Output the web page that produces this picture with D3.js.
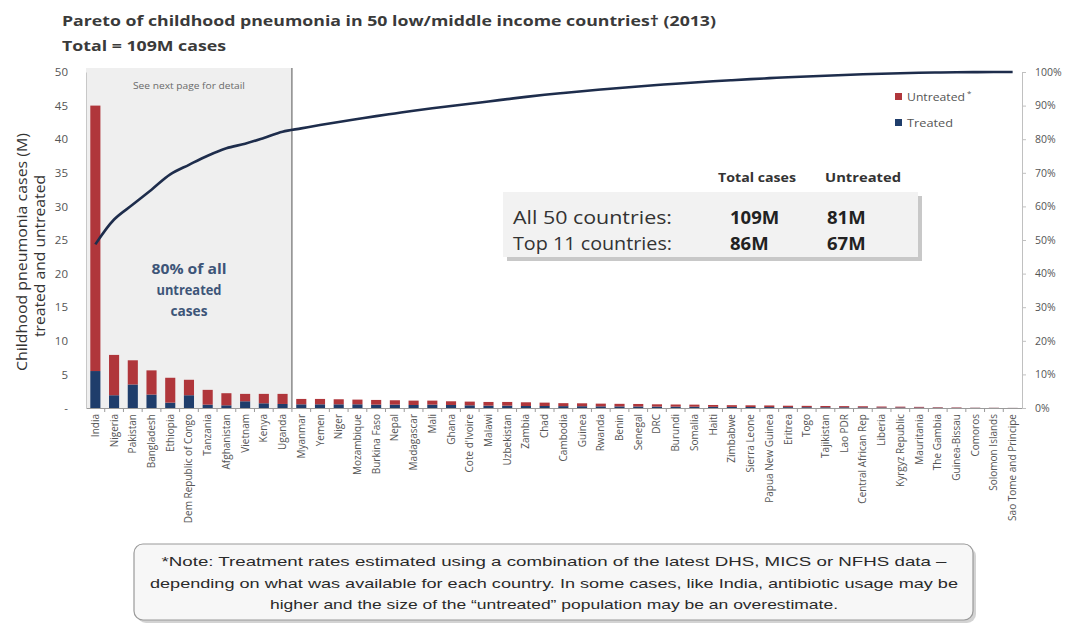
<!DOCTYPE html>
<html>
<head>
<meta charset="utf-8">
<script src="https://cdn.jsdelivr.net/npm/d3@7"></script>
<style>
  body { margin: 0; background: #fff; }
  svg { display: block; font-family: "Open Sans", Lato, sans-serif; }
</style>
</head>
<body>
<svg id="chart" width="1070" height="628"></svg>
<script>
// Childhood pneumonia cases (millions), 2013, by country
const countries = [
  "India", "Nigeria", "Pakistan", "Bangladesh", "Ethiopia", "Dem Republic of Congo",
  "Tanzania", "Afghanistan", "Vietnam", "Kenya", "Uganda", "Myanmar", "Yemen", "Niger",
  "Mozambique", "Burkina Faso", "Nepal", "Madagascar", "Mali", "Ghana", "Cote d'Ivoire",
  "Malawi", "Uzbekistan", "Zambia", "Chad", "Cambodia", "Guinea", "Rwanda", "Benin",
  "Senegal", "DRC", "Burundi", "Somalia", "Haiti", "Zimbabwe", "Sierra Leone",
  "Papua New Guinea", "Eritrea", "Togo", "Tajikistan", "Lao PDR", "Central African Rep",
  "Liberia", "Kyrgyz Republic", "Mauritania", "The Gambia", "Guinea-Bissau", "Comoros",
  "Solomon Islands", "Sao Tome and Principe"
];
const totalCases = [
  45.0, 7.9, 7.1, 5.6, 4.5, 4.2, 2.7, 2.2, 2.1, 2.1, 2.1, 1.35, 1.35, 1.3,
  1.25, 1.2, 1.15, 1.1, 1.1, 1.0, 0.95, 0.9, 0.9, 0.85, 0.8, 0.72, 0.7, 0.65, 0.62,
  0.6, 0.55, 0.52, 0.5, 0.45, 0.42, 0.4, 0.38, 0.34, 0.32, 0.3, 0.28, 0.26,
  0.22, 0.2, 0.17, 0.12, 0.09, 0.05, 0.04, 0.02
];
const treatedCases = [
  5.5, 1.9, 3.5, 2.0, 0.8, 1.9, 0.5, 0.4, 1.0, 0.7, 0.6, 0.55, 0.55, 0.55,
  0.55, 0.5, 0.5, 0.45, 0.5, 0.45, 0.4, 0.35, 0.35, 0.3, 0.3, 0.28, 0.27, 0.25, 0.24,
  0.23, 0.21, 0.2, 0.19, 0.17, 0.16, 0.15, 0.14, 0.13, 0.12, 0.11, 0.11, 0.1,
  0.08, 0.08, 0.07, 0.05, 0.03, 0.02, 0.015, 0.008
];
const leftTicks = [0, 5, 10, 15, 20, 25, 30, 35, 40, 45, 50];
const rightTicks = [0, 0.1, 0.2, 0.3, 0.4, 0.5, 0.6, 0.7, 0.8, 0.9, 1.0];
const topGroupSize = 11;
const tableHeaders = ["Total cases", "Untreated"];
const summaryRows = [
  { label: "All 50 countries:", total: "109M", untreated: "81M" },
  { label: "Top 11 countries:", total: "86M", untreated: "67M" }
];
const noteLines = [
  "*Note: Treatment rates estimated using a combination of the latest DHS, MICS or NFHS data \u2013",
  "depending  on what was available for each country. In some cases, like India, antibiotic usage may be",
  "higher and the size of the \u201cuntreated\u201d population may be an overestimate."
];

const untreatedCases = totalCases.map((t, i) => t - treatedCases[i]);
const untreatedSum = d3.sum(untreatedCases);
const cumulativeShare = d3.cumsum(untreatedCases).map(v => v / untreatedSum);

const data = countries.map((c, i) => ({
  country: c, treated: treatedCases[i], untreated: untreatedCases[i], cum: cumulativeShare[i]
}));

const svg = d3.select("#chart");
const plot = { left: 86, right: 1022, top: 72, bottom: 408 };

const x = d3.scaleBand().domain(countries).range([plot.left, plot.right])
  .paddingInner(0.46).paddingOuter(0.23);
const y = d3.scaleLinear().domain([0, 50]).range([plot.bottom, plot.top]);
const yPct = d3.scaleLinear().domain([0, 1]).range([plot.bottom, plot.top]);

// fixed-width text helper
function label(parent, txt, attrs, width, adjust) {
  const t = parent.append("text").text(txt);
  Object.entries(attrs).forEach(([k, v]) => t.attr(k, v));
  if (width) t.attr("textLength", width).attr("lengthAdjust", adjust || "spacingAndGlyphs");
  return t;
}

// Title
label(svg, "Pareto of childhood pneumonia in 50 low/middle income countries\u2020 (2013)",
  { x: 62, y: 26, "font-size": 15, "font-weight": 700, fill: "#3a3a3a" }, 654);
label(svg, "Total = 109M cases",
  { x: 62, y: 51, "font-size": 15, "font-weight": 700, fill: "#3a3a3a" }, 164);

// Shaded block for the top 11 countries
const splitX = x(countries[topGroupSize - 1]) + x.bandwidth() + x.step() * x.paddingInner() / 2;
svg.append("rect").attr("x", plot.left).attr("y", plot.top - 4)
  .attr("width", splitX - plot.left).attr("height", plot.bottom - plot.top + 4)
  .attr("fill", "#efefef");
svg.append("line").attr("x1", splitX).attr("x2", splitX)
  .attr("y1", plot.top - 4).attr("y2", plot.bottom)
  .attr("stroke", "#6f6f6f").attr("stroke-width", 1.2);
const blockMid = (plot.left + splitX) / 2;
label(svg, "See next page for detail",
  { x: blockMid, y: 89, "text-anchor": "middle", "font-size": 9, fill: "#6a6a6a" }, 112);
[["80% of all", 75], ["untreated", 65], ["cases", 37]].forEach(([t, w], i) => {
  label(svg, t, { x: blockMid, y: 274 + i * 21, "text-anchor": "middle", "font-size": 13.5,
    "font-weight": 700, fill: "#3d5578" }, w);
});

// Stacked bars
const stack = d3.stack().keys(["treated", "untreated"])(data);
const barColors = { treated: "#1f3d6b", untreated: "#b0363b" };
svg.append("g").selectAll("g").data(stack).join("g")
  .attr("fill", d => barColors[d.key])
  .selectAll("rect").data(d => d).join("rect")
  .attr("x", d => x(d.data.country))
  .attr("width", x.bandwidth())
  .attr("y", d => y(d[1]))
  .attr("height", d => Math.max(0, y(d[0]) - y(d[1])));

// Axes
const axisColor = "#9a9a9a";
const xAxis = svg.append("g").attr("transform", `translate(0,${plot.bottom})`)
  .call(d3.axisBottom(x).tickSize(0).tickFormat(""));
xAxis.select(".domain").attr("stroke", axisColor);
svg.append("g").selectAll("line").data(countries.slice(1)).join("line")
  .attr("x1", d => x(d) - x.step() * x.paddingInner() / 2)
  .attr("x2", d => x(d) - x.step() * x.paddingInner() / 2)
  .attr("y1", plot.bottom).attr("y2", plot.bottom + 4)
  .attr("stroke", axisColor);
svg.append("g").selectAll("text").data(countries).join("text")
  .attr("transform", d => `translate(${x(d) + x.bandwidth() / 2 + 3.5},${plot.bottom + 6}) rotate(-90)`)
  .attr("text-anchor", "end").attr("font-size", 10).attr("fill", "#555")
  .text(d => d);

const yAxisL = svg.append("g").attr("transform", `translate(${plot.left},0)`)
  .call(d3.axisLeft(y).tickValues(leftTicks).tickSize(0).tickPadding(18)
    .tickFormat(d => d === 0 ? "-" : d));
yAxisL.select(".domain").attr("stroke", "#c8c8c8");
yAxisL.selectAll("text").attr("font-size", 11.5).attr("fill", "#555")
  .attr("font-family", "'Open Sans', sans-serif");

const yAxisR = svg.append("g").attr("transform", `translate(${plot.right},0)`)
  .call(d3.axisRight(yPct).tickValues(rightTicks).tickSize(4).tickPadding(9)
    .tickFormat(d3.format(".0%")));
yAxisR.select(".domain").attr("stroke", "#c0c0c0");
yAxisR.selectAll(".tick line").attr("stroke", "#c0c0c0");
yAxisR.selectAll("text").attr("font-size", 10.5).attr("fill", "#555")
  .attr("font-family", "'Open Sans', sans-serif");

// Y axis title
label(svg, "Childhood pneumonia cases (M)",
  { transform: "translate(27,252) rotate(-90)", "text-anchor": "middle", "font-size": 14, fill: "#333" }, 238);
label(svg, "treated and untreated",
  { transform: "translate(45,256) rotate(-90)", "text-anchor": "middle", "font-size": 14, fill: "#333" }, 162);

// Cumulative untreated share
const line = d3.line()
  .x(d => x(d.country) + x.bandwidth() / 2)
  .y(d => yPct(d.cum))
  .curve(d3.curveCatmullRom.alpha(0.5));
svg.append("path").datum(data).attr("d", line)
  .attr("fill", "none").attr("stroke", "#1e2d4c").attr("stroke-width", 2.6);

// Legend
const legend = svg.append("g").attr("transform", "translate(895,97)");
[["untreated", "Untreated", 58], ["treated", "Treated", 46]].forEach(([k, txt, w], i) => {
  const g = legend.append("g").attr("transform", `translate(0,${i * 26})`);
  g.append("rect").attr("x", 0).attr("y", -4).attr("width", 7).attr("height", 7).attr("fill", barColors[k]);
  label(g, txt, { x: 12, y: 4, "font-size": 11, fill: "#555" }, w);
  if (k === "untreated") g.append("text").attr("x", 72).attr("y", -1).attr("font-size", 8).attr("fill", "#555").text("*");
});

// Summary table
const colTotal = 730, colUntreated = 827;
label(svg, tableHeaders[0], { x: 757, y: 182, "text-anchor": "middle", "font-size": 12,
  "font-weight": 700, fill: "#333" }, 78);
label(svg, tableHeaders[1], { x: 863, y: 182, "text-anchor": "middle", "font-size": 12,
  "font-weight": 700, fill: "#333" }, 76);
svg.append("rect").attr("x", 507).attr("y", 196).attr("width", 415).attr("height", 65)
  .attr("fill", "#9a9a9a").attr("opacity", 0.55);
svg.append("rect").attr("x", 503).attr("y", 192).attr("width", 415).attr("height", 65)
  .attr("fill", "#f2f2f2");
summaryRows.forEach((r, i) => {
  const yy = 224 + i * 26;
  label(svg, r.label, { x: 513, y: yy, "font-size": 18, fill: "#333" }, 159);
  label(svg, r.total, { x: colTotal, y: yy, "font-size": 18.5, "font-weight": 700, fill: "#222" });
  label(svg, r.untreated, { x: colUntreated, y: yy, "font-size": 18.5, "font-weight": 700, fill: "#222" });
});

// Footnote box
svg.append("rect").attr("x", 137).attr("y", 547).attr("width", 839).attr("height", 76)
  .attr("rx", 9).attr("fill", "#a8a8a8").attr("opacity", 0.5);
svg.append("rect").attr("x", 134).attr("y", 544).attr("width", 839).attr("height", 76)
  .attr("rx", 9).attr("fill", "#f7f7f7").attr("stroke", "#9a9a9a").attr("stroke-width", 1.2);
const noteWidths = [785, 808, 568];
noteLines.forEach((t, i) => {
  label(svg, t, { x: 554, y: 566 + i * 21.5, "text-anchor": "middle",
    "font-family": "'Liberation Sans', Arial, sans-serif", "font-size": 13.5, fill: "#2a2a2a" },
    noteWidths[i]);
});
</script>
</body>
</html>
